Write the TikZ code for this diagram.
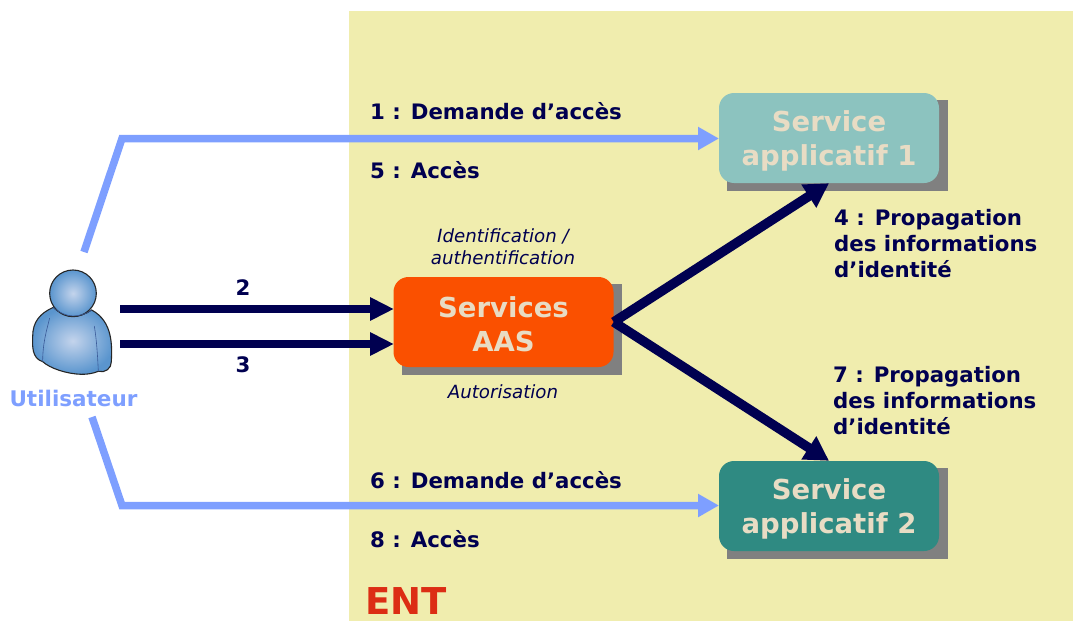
\documentclass[tikz,border=0pt]{standalone}
\usepackage{fontspec}
\setmainfont{DejaVu Sans}
\usetikzlibrary{arrows.meta}
\definecolor{navy}{HTML}{000050}
\definecolor{ltblue}{HTML}{7E9FFF}
\definecolor{paper}{HTML}{F0EDAE}
\definecolor{boxtext}{HTML}{E8DCC4}
\definecolor{shadowgray}{HTML}{808080}
\definecolor{svcone}{HTML}{8CC3BF}
\definecolor{svctwo}{HTML}{2F8A82}
\definecolor{aasfill}{HTML}{FA5000}
\definecolor{entred}{HTML}{DC2D14}
\definecolor{bodyblue}{HTML}{5A95CE}
\definecolor{bodylight}{HTML}{C4D4EC}
\definecolor{creaseblue}{HTML}{3A5A98}
\tikzset{
  x=1pt,y=-1pt,
  svcbox/.style={rounded corners=15pt,minimum width=220pt,minimum height=90pt,inner sep=0pt},
  boxlabel/.style={text=boxtext,font=\fontsize{27.5}{34.5}\selectfont\bfseries,align=center,inner sep=0pt},
  shadowbox/.style={fill=shadowgray,minimum width=220.5pt,minimum height=91pt,inner sep=0pt},
  lab/.style={text=navy,font=\fontsize{21.3}{26}\selectfont\bfseries,anchor=west,inner sep=0pt,align=left},
  note/.style={text=navy,font=\fontsize{18.2}{22}\selectfont\itshape,inner sep=0pt,align=center},
  bluearrow/.style={draw=ltblue,line width=7.5pt,-{Triangle[length=21pt,width=22pt]},line join=miter},
  navyarrow/.style={draw=navy,line width=8pt,-{Triangle[length=24pt,width=22pt]}},
  navydiag/.style={draw=navy,line width=9.5pt,-{Triangle[length=24pt,width=26pt]}},
}
\begin{document}
\begin{tikzpicture}
\useasboundingbox (0,0) rectangle (1073,621);
\fill[paper] (349,11) rectangle (1073,621);
% boxes
\node[shadowbox] (s1sh) at (837.5,145.5) {};
\node[svcbox,fill=svcone] (s1) at (829,138) {};
\node[boxlabel] (s1t) at (829,141) {Service\\applicatif 1};
\node[shadowbox] (aassh) at (512,329.5) {};
\node[svcbox,fill=aasfill] (aas) at (503.5,322) {};
\node[boxlabel] (aast) at (503.5,324) {Services\\AAS};
\node[shadowbox] (s2sh) at (837.5,513.5) {};
\node[svcbox,fill=svctwo] (s2) at (829,506) {};
\node[boxlabel] (s2t) at (829,509) {Service\\applicatif 2};
% free ends
\coordinate (topstart) at (84,252);
\coordinate (topbend) at (122,138.5);
\coordinate (botstart) at (92,417);
\coordinate (botbend) at (122,505.5);
\coordinate (navya) at (120,309);
\coordinate (navyb) at (120,344);
\coordinate (aasa) at (394,309);
\coordinate (aasb) at (394,344);
\coordinate (s1w) at (719,138.5);
\coordinate (s2w) at (719,505.5);
% connectors
\draw[bluearrow] (topstart) -- (topbend) -- (s1w);
\draw[bluearrow] (botstart) -- (botbend) -- (s2w);
\draw[navyarrow] (navya) -- (aasa);
\draw[navyarrow] (navyb) -- (aasb);
\draw[navydiag] (aas.east) -- (s1.south);
\draw[navydiag] (aas.east) -- (s2.north);
% labels
\node[lab] (l1) at (370,111) {1 : Demande d’accès};
\node[lab] (l5) at (370,170) {5 : Accès};
\node[lab] (l6) at (370,480) {6 : Demande d’accès};
\node[lab] (l8) at (370,539) {8 : Accès};
\node[lab] (l4) at (834,243.5) {4 : Propagation\\des informations\\d’identité};
\node[lab] (l7) at (833,400.5) {7 : Propagation\\des informations\\d’identité};
\node[lab,anchor=center] (l2) at (243,288) {2};
\node[lab,anchor=center] (l3) at (243,365) {3};
\node[note] (n1) at (503,247) {Identification /\\authentification};
\node[note] (n2) at (503,391.5) {Autorisation};
\node[text=entred,font=\fontsize{37}{44}\selectfont\bfseries,inner sep=0pt] (ent) at (406,601) {ENT};
\node[text=ltblue,font=\fontsize{21.5}{25}\selectfont\bfseries,inner sep=0pt] (user) at (73.5,398) {Utilisateur};
% person
\begin{scope}[shift={(0,230)},x=0.3333pt,y=-0.3333pt]
\shade[inner color=bodylight,outer color=bodyblue,draw=black!85,line width=1.1pt]
  (160,232) .. controls (120,250) and (98,275) .. (98,320)
  .. controls (97,350) and (96,385) .. (128,395)
  .. controls (150,415) and (200,432) .. (245,433)
  .. controls (265,433) and (280,430) .. (295,424)
  .. controls (315,430) and (335,415) .. (334,395)
  .. controls (336,350) and (340,275) .. (275,240)
  .. controls (240,265) and (195,265) .. (160,232) -- cycle;
\draw[creaseblue,line width=0.6pt] (149,264) .. controls (140,300) and (128,340) .. (128,395);
\draw[creaseblue,line width=0.6pt] (283,288) .. controls (290,330) and (293,380) .. (295,424);
\shade[inner color=bodylight,outer color=bodyblue,draw=black!85,line width=1.1pt] (219,190) circle [radius=70];
\draw[creaseblue,line width=0.6pt] (160,232) .. controls (195,265) and (240,265) .. (275,240);
\end{scope}
\end{tikzpicture}
\end{document}
